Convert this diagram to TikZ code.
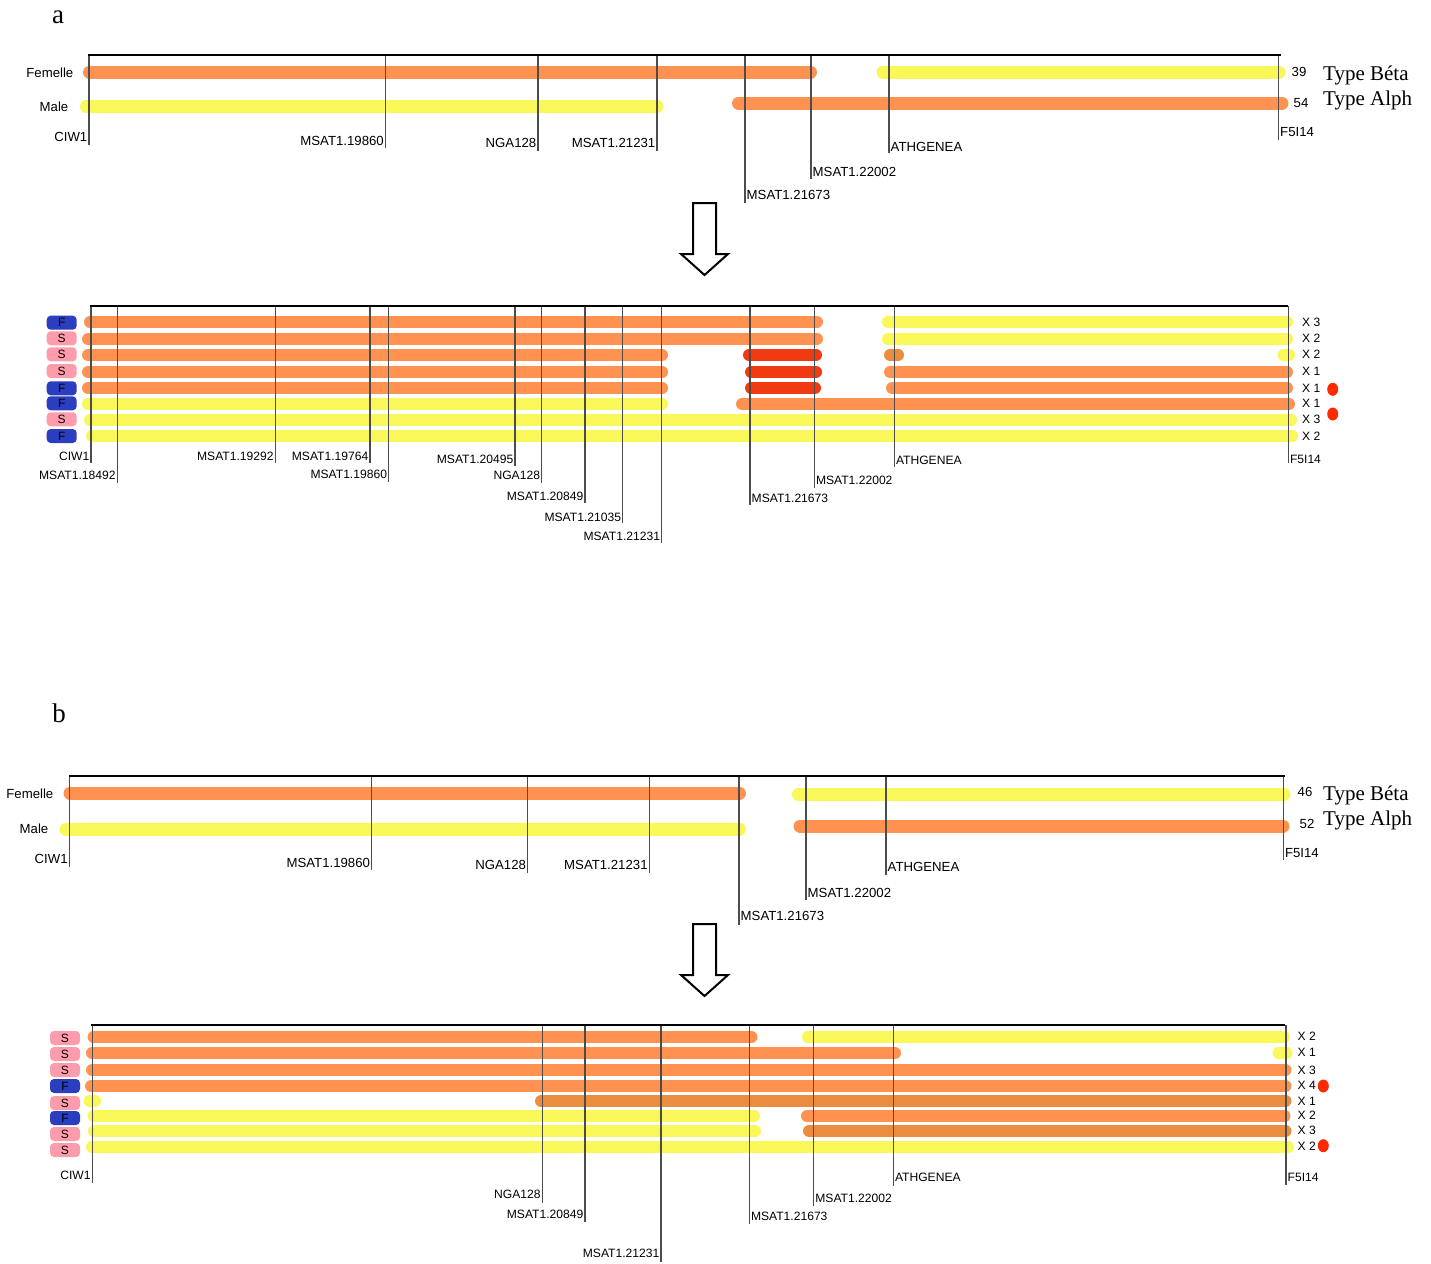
\documentclass[tikz,border=0pt]{standalone}
\usepackage{fontspec}
\setmainfont{Liberation Serif}
\setsansfont{Liberation Sans}
\usetikzlibrary{calc}

\definecolor{orng}{HTML}{FF9250}
\definecolor{ylw}{HTML}{FAF759}
\definecolor{dorng}{HTML}{EA8D3E}
\definecolor{rd}{HTML}{F03A12}
\definecolor{fblue}{HTML}{2B3EC0}
\definecolor{spink}{HTML}{FF9CAB}
\definecolor{dotred}{HTML}{FF2A00}

\tikzset{
	bar/.style = {line width = 12pt, line cap = round},
	pbar/.style = {line width = 13pt, line cap = round},
	chrom/.style = {line width = 2.5pt, black},
	marker/.style = {line width = 1.2pt, black!70},
	lbl/.style = {font = \sffamily\fontsize{13.2}{15}\selectfont, inner sep = 1.5pt},
	slbl/.style = {font = \sffamily\fontsize{12.1}{14}\selectfont, inner sep = 1.5pt},
	badge/.style = {rounded corners = 4pt, minimum width = 30pt, minimum height = 14pt, inner sep = 0pt, font = \sffamily\fontsize{12}{14}\selectfont},
	typelbl/.style = {font = \fontsize{21}{24}\selectfont, inner sep = 0pt, anchor = base west},
	panel/.style = {font = \fontsize{27}{30}\selectfont, inner sep = 0pt},
	downarrow/.style = {line width = 2pt, black, fill = white}
}

\begin{document}
\begin{tikzpicture}[x = 1pt, y = -1pt]
	\useasboundingbox (0, 0) rectangle (1431, 1263);

	% panel a
	\node[panel] (pa) at (58, 17) {a};

	% parents
	\draw[pbar, orng] (89.5, 72) -- (810.5, 72);
	\draw[pbar, ylw] (883, 72) -- (1279, 72);
	\draw[pbar, ylw] (86.5, 106.5) -- (657, 106.5);
	\draw[pbar, orng] (738.5, 103) -- (1282, 103);
	\foreach \x/\yb/\ly/\anc/\name [count = \k] in {89/145/137/east/CIW1, 385.5/148/141/east/MSAT1.19860, 538/151/143/east/NGA128, 657/151/143/east/MSAT1.21231, 745/203/195/west/MSAT1.21673, 811/179/171.5/west/MSAT1.22002, 889/153/146.5/west/ATHGENEA, 1278.5/140/132.5/west/F5I14}{
		\draw[marker] (\x, 55) -- (\x, \yb);
		\node[lbl, anchor = \anc] (apm\k) at (\x, \ly) {\name};
	}
	\draw[chrom] (88, 55) -- (1281, 55);
	\node[lbl, anchor = east] (afem) at (75, 72.3) {Femelle};
	\node[lbl, anchor = east] (amale) at (70, 106.7) {Male};
	\node[lbl, anchor = west] (an1) at (1290, 71.5) {39};
	\node[lbl, anchor = west] (an2) at (1292, 102.7) {54};
	\node[typelbl] (atb) at (1323, 80.3) {Type Béta};
	\node[typelbl] (ata) at (1323, 105.3) {Type Alph};

	\draw[downarrow] (693, 203) -- (716, 203) -- (716, 254) -- (728, 254) -- (704.5, 275) -- (681, 254) -- (693, 254) -- cycle;

	% offspring
	\draw[bar, orng] (90, 322) -- (817, 322);
	\draw[bar, ylw] (888, 322) -- (1287, 322);
	\draw[bar, orng] (88, 339) -- (817, 339);
	\draw[bar, ylw] (888, 339) -- (1287, 339);
	\draw[bar, orng] (88, 355) -- (662, 355);
	\draw[bar, rd] (749, 355) -- (816, 355);
	\draw[bar, dorng] (890, 355) -- (898, 355);
	\draw[bar, ylw] (1283.5, 355) -- (1289, 355);
	\draw[bar, orng] (88, 372) -- (662, 372);
	\draw[bar, rd] (751, 372) -- (816, 372);
	\draw[bar, orng] (890, 372) -- (1287, 372);
	\draw[bar, orng] (88, 388) -- (662, 388);
	\draw[bar, rd] (751, 388) -- (815, 388);
	\draw[bar, orng] (892, 388) -- (1287, 388);
	\draw[bar, ylw] (88, 404) -- (662, 404);
	\draw[bar, orng] (742, 404) -- (1289, 404);
	\draw[bar, ylw] (90, 420) -- (1291, 420);
	\draw[bar, ylw] (92, 436) -- (1292, 436);
	\foreach \x/\yb/\ly/\anc/\name [count = \k] in {91/463/456.5/east/CIW1, 117.3/483/475.7/east/MSAT1.18492, 275.3/463/456/east/MSAT1.19292, 370/463/456.5/east/MSAT1.19764, 388.7/482/474.3/east/MSAT1.19860, 515/466/459/east/MSAT1.20495, 541.7/483/475/east/NGA128, 585/503/496/east/MSAT1.20849, 622.7/523/517/east/MSAT1.21035, 661.7/543/536/east/MSAT1.21231, 750/505/498.3/west/MSAT1.21673, 814.3/488/480/west/MSAT1.22002, 894.3/467/460/west/ATHGENEA, 1288.3/463/459.3/west/F5I14}{
		\draw[marker] (\x, 306) -- (\x, \yb);
		\node[slbl, anchor = \anc] (aom\k) at (\x, \ly) {\name};
	}
	\draw[chrom] (90, 306) -- (1288, 306);
	\foreach \y/\s/\n [count = \k] in {322.7/F/3, 338.3/S/2, 354.3/S/2, 371/S/1, 388.3/F/1, 403.3/F/1, 419.3/S/3, 436/F/2}{
		\if F\s
			\node[badge, fill = fblue] (ab\k) at (61.7, \y) {\s};
		\else
			\node[badge, fill = spink] (ab\k) at (61.7, \y) {\s};
		\fi
		\node[slbl, anchor = west] (ax\k) at (1300.5, \y) {X \n};
	}
	\fill[dotred] (1332.7, 389.3) ellipse [x radius = 5.5, y radius = 6.5];
	\fill[dotred] (1332.7, 414) ellipse [x radius = 5.5, y radius = 6.5];

	% panel b
	\node[panel] (pb) at (59, 713) {b};

	% parents
	\draw[pbar, orng] (70, 793) -- (739.5, 793);
	\draw[pbar, ylw] (66, 829) -- (739.5, 829);
	\draw[pbar, ylw] (798.5, 794) -- (1284, 794);
	\draw[pbar, orng] (800, 826) -- (1283, 826);
	\foreach \x/\yb/\ly/\anc/\name [count = \k] in {69.3/867/859/east/CIW1, 371.7/870/863.3/east/MSAT1.19860, 527.7/873/865/east/NGA128, 649.3/873/865/east/MSAT1.21231, 739/925/916/west/MSAT1.21673, 806/900/893.3/west/MSAT1.22002, 886/875/867.3/west/ATHGENEA, 1283.3/860/853.3/west/F5I14}{
		\draw[marker] (\x, 776) -- (\x, \yb);
		\node[lbl, anchor = \anc] (bpm\k) at (\x, \ly) {\name};
	}
	\draw[chrom] (69, 776) -- (1285, 776);
	\node[lbl, anchor = east] (bfem) at (55, 793.3) {Femelle};
	\node[lbl, anchor = east] (bmale) at (50, 829) {Male};
	\node[lbl, anchor = west] (bn1) at (1296, 792.3) {46};
	\node[lbl, anchor = west] (bn2) at (1298, 824.3) {52};
	\node[typelbl] (btb) at (1323, 800.3) {Type Béta};
	\node[typelbl] (bta) at (1323, 825.3) {Type Alph};

	\draw[downarrow, shift = {(0, 721)}] (693, 203) -- (716, 203) -- (716, 254) -- (728, 254) -- (704.5, 275) -- (681, 254) -- (693, 254) -- cycle;

	% offspring
	\draw[bar, orng] (93.5, 1037) -- (751.5, 1037);
	\draw[bar, ylw] (808, 1037) -- (1284, 1037);
	\draw[bar, orng] (92, 1053) -- (895, 1053);
	\draw[bar, ylw] (1278.5, 1053) -- (1286.5, 1053);
	\draw[bar, orng] (92, 1070) -- (1285.5, 1070);
	\draw[bar, orng] (91, 1086) -- (1285.5, 1086);
	\draw[bar, ylw] (89.5, 1101) -- (95, 1101);
	\draw[bar, dorng] (541, 1101) -- (1285.5, 1101);
	\draw[bar, ylw] (93.5, 1116) -- (754, 1116);
	\draw[bar, orng] (807, 1116) -- (1284.5, 1116);
	\draw[bar, ylw] (94, 1131) -- (755, 1131);
	\draw[bar, dorng] (809, 1131) -- (1285.5, 1131);
	\draw[bar, ylw] (92, 1147) -- (1288, 1147);
	\foreach \x/\yb/\ly/\anc/\name [count = \k] in {92.3/1183/1175/east/CIW1, 542.3/1203/1194/east/NGA128, 585/1222/1214/east/MSAT1.20849, 661/1262/1253.3/east/MSAT1.21231, 749.3/1224/1216.7/west/MSAT1.21673, 813.7/1206/1198.3/west/MSAT1.22002, 893.3/1186/1177.3/west/ATHGENEA, 1286/1185/1177.3/west/F5I14}{
		\draw[marker] (\x, 1025) -- (\x, \yb);
		\node[slbl, anchor = \anc] (bom\k) at (\x, \ly) {\name};
	}
	\draw[chrom] (91, 1025) -- (1285, 1025);
	\foreach \y/\yx/\s/\n [count = \k] in {1038/1036.7/S/2, 1054/1052.3/S/1, 1070/1070/S/3, 1086/1085.7/F/4, 1103/1101/S/1, 1118/1115.7/F/2, 1134/1130/S/3, 1150/1146.7/S/2}{
		\if F\s
			\node[badge, fill = fblue] (bb\k) at (65, \y) {\s};
		\else
			\node[badge, fill = spink] (bb\k) at (65, \y) {\s};
		\fi
		\node[slbl, anchor = west] (bx\k) at (1296, \yx) {X \n};
	}
	\fill[dotred] (1323.3, 1086) ellipse [x radius = 5.5, y radius = 6.5];
	\fill[dotred] (1323.3, 1145.7) ellipse [x radius = 5.5, y radius = 6.5];
\end{tikzpicture}
\end{document}
